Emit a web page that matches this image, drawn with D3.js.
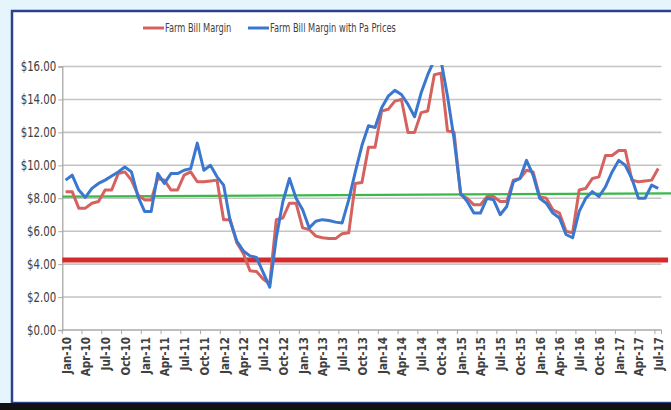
<!DOCTYPE html>
<html>
<head>
<meta charset="utf-8">
<script src="https://cdn.jsdelivr.net/npm/d3@7"></script>
<style>
  body { margin: 0; background: #e6f4fb; }
  svg { display: block; }
  text { font-family: "Liberation Sans Narrow", "DejaVu Sans Condensed", "Liberation Sans", sans-serif; fill: #404040; }
</style>
</head>
<body>
<div id="chart"></div>
<script>
// months Jan-10 .. Jul-17 (91 points)
var months = d3.timeMonth.range(new Date(2010, 0, 1), new Date(2017, 7, 1));
var tickLabels = ['Jan-10','Apr-10','Jul-10','Oct-10','Jan-11','Apr-11','Jul-11','Oct-11',
  'Jan-12','Apr-12','Jul-12','Oct-12','Jan-13','Apr-13','Jul-13','Oct-13','Jan-14','Apr-14',
  'Jul-14','Oct-14','Jan-15','Apr-15','Jul-15','Oct-15','Jan-16','Apr-16','Jul-16','Oct-16',
  'Jan-17','Apr-17','Jul-17'];

var farmBill = [8.4, 8.4, 7.4, 7.4, 7.7, 7.8, 8.5, 8.5, 9.5, 9.6,
  9.1, 8.2, 7.9, 7.9, 9.2, 9.1, 8.5, 8.5, 9.4, 9.6,
  9.0, 9.0, 9.05, 9.1, 6.7, 6.7, 5.3, 4.65, 3.6, 3.55,
  3.1, 2.8, 6.7, 6.8, 7.7, 7.7, 6.2, 6.1, 5.7, 5.6,
  5.55, 5.55, 5.85, 5.9, 8.9, 8.95, 11.1, 11.1, 13.3, 13.4,
  13.9, 14.0, 12.0, 12.0, 13.2, 13.3, 15.5, 15.6, 12.1, 12.0,
  8.2, 8.0, 7.6, 7.6, 8.1, 8.1, 7.8, 7.8, 9.1, 9.2,
  9.7, 9.6, 8.1, 8.0, 7.3, 7.1, 6.0, 5.9, 8.5, 8.6,
  9.2, 9.3, 10.6, 10.6, 10.9, 10.9, 9.1, 9.0, 9.05, 9.1,
  9.8];

var paPrices = [9.1, 9.4, 8.5, 8.05, 8.6, 8.9, 9.1, 9.35, 9.6, 9.9,
  9.6, 8.1, 7.2, 7.2, 9.5, 8.9, 9.5, 9.5, 9.7, 9.8,
  11.35, 9.7, 10.0, 9.3, 8.8, 6.6, 5.4, 4.8, 4.5, 4.4,
  3.5, 2.6, 5.6, 7.8, 9.2, 8.0, 7.3, 6.2, 6.6, 6.7,
  6.65, 6.55, 6.5, 7.9, 9.6, 11.2, 12.4, 12.3, 13.5, 14.2,
  14.55, 14.3, 13.7, 12.95, 14.4, 15.5, 16.4, 16.4, 14.2, 11.6,
  8.3, 7.8, 7.1, 7.1, 8.0, 7.9, 7.0, 7.5, 9.0, 9.2,
  10.3, 9.4, 8.0, 7.7, 7.1, 6.8, 5.8, 5.6, 7.2, 8.0,
  8.4, 8.1, 8.7, 9.6, 10.3, 10.0, 9.2, 8.0, 8.0, 8.8,
  8.6];

var yTicks = [0, 2, 4, 6, 8, 10, 12, 14, 16];
var greenLine = [8.1, 8.3];   // start / end value
var redLine = 4.25;

var width = 671, height = 410;
var svg = d3.select('#chart').append('svg').attr('width', width).attr('height', height);

// frame
svg.append('rect').attr('x', 0).attr('y', 0).attr('width', width).attr('height', height).attr('fill', '#e6f4fb');
svg.append('rect').attr('x', 12).attr('y', 11).attr('width', 662).attr('height', 392)
  .attr('fill', '#fff').attr('stroke', '#2c4190').attr('stroke-width', 2.5);
svg.append('rect').attr('x', 0).attr('y', 403).attr('width', width).attr('height', 7).attr('fill', '#111');

var x = d3.scaleBand().domain(d3.range(months.length)).range([62.3, 661.5]);
var y = d3.scaleLinear().domain([0, 16]).range([330, 66.5]);
var cx = i => x(i) + x.bandwidth() / 2;
var sx = 0.84; // condensed text

// gridlines
svg.append('g').selectAll('line').data(yTicks.slice(1)).join('line')
  .attr('x1', x.range()[0]).attr('x2', x.range()[1])
  .attr('y1', d => y(d)).attr('y2', d => y(d))
  .attr('stroke', '#c4c4c4').attr('stroke-width', 1.6);

// y axis
var yAxis = svg.append('g').attr('transform', `translate(${x.range()[0]},0)`)
  .call(d3.axisLeft(y).tickValues(yTicks).tickSize(4).tickFormat(d => '$' + d.toFixed(2)));
yAxis.select('.domain').attr('stroke', '#a8a8a8').attr('stroke-width', 1.3);
yAxis.selectAll('.tick line').attr('stroke', '#a8a8a8');
yAxis.selectAll('text').attr('x', -6 / sx).attr('transform', `scale(${sx},1)`)
  .style('font-size', '13.5px').attr('fill', '#404040');

// x axis
svg.append('line').attr('x1', x.range()[0]).attr('x2', x.range()[1])
  .attr('y1', y(0)).attr('y2', y(0)).attr('stroke', '#a8a8a8').attr('stroke-width', 1.3);
var quarterIdx = d3.range(0, months.length, 3);
svg.append('g').selectAll('line').data(quarterIdx.concat([months.length])).join('line')
  .attr('x1', d => x.range()[0] + d * x.step()).attr('x2', d => x.range()[0] + d * x.step())
  .attr('y1', y(0)).attr('y2', y(0) + 4).attr('stroke', '#a8a8a8');
svg.append('g').selectAll('text').data(quarterIdx).join('text')
  .attr('transform', (d, k) => `translate(${cx(d) + 5},${y(0) + 7})rotate(-90)`)
  .attr('text-anchor', 'end')
  .style('font-size', '11.5px').style('font-weight', 'bold')
  .text((d, k) => tickLabels[k]);

// reference lines
svg.append('line').attr('x1', x.range()[0]).attr('x2', 668)
  .attr('y1', y(redLine)).attr('y2', y(redLine))
  .attr('stroke', '#d42a2a').attr('stroke-width', 5);
svg.append('line').attr('x1', x.range()[0]).attr('x2', width)
  .attr('y1', y(greenLine[0])).attr('y2', y(greenLine[1]))
  .attr('stroke', '#3cb84a').attr('stroke-width', 2.2);

// series
svg.append('clipPath').attr('id', 'plot').append('rect')
  .attr('x', x.range()[0]).attr('y', y(16) - 1.5)
  .attr('width', x.range()[1] - x.range()[0] + 5).attr('height', y(0) - y(16) + 1.5);
var line = d3.line().x((d, i) => cx(i)).y(d => y(d));
svg.append('path').datum(farmBill).attr('d', line).attr('clip-path', 'url(#plot)')
  .attr('fill', 'none').attr('stroke', '#d6625f').attr('stroke-width', 3).attr('stroke-linejoin', 'round');
svg.append('path').datum(paPrices).attr('d', line).attr('clip-path', 'url(#plot)')
  .attr('fill', 'none').attr('stroke', '#3a78cf').attr('stroke-width', 3).attr('stroke-linejoin', 'round');

// legend
var legend = [
  {name: 'Farm Bill Margin', color: '#d6625f', x: 143},
  {name: 'Farm Bill Margin with Pa Prices', color: '#3a78cf', x: 248}
];
var lg = svg.append('g').selectAll('g').data(legend).join('g')
  .attr('transform', d => `translate(${d.x},28)`);
lg.append('line').attr('x1', 0).attr('x2', 21).attr('stroke', d => d.color).attr('stroke-width', 3);
lg.append('text').attr('x', 22 / 0.8).attr('dy', '0.35em').attr('transform', 'scale(0.8,1)')
  .style('font-size', '11.5px').text(d => d.name);
</script>
</body>
</html>
